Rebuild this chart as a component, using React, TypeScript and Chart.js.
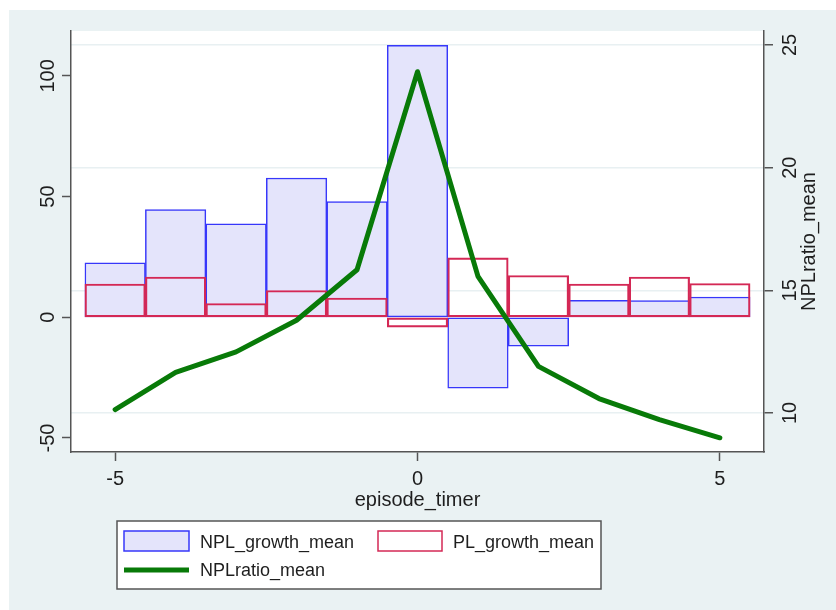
import React, { useEffect, useRef } from 'react';
import { Chart, registerables } from 'chart.js';

Chart.register(...registerables);

// ---- data ----
const episodeTimer = [-5, -4, -3, -2, -1, 0, 1, 2, 3, 4, 5];
const nplGrowthMean = [22.6, 44.6, 38.7, 57.7, 47.9, 112.7, -29.4, -12.0, 7.0, 6.9, 8.4];
const plGrowthMean = [13.8, 16.7, 5.7, 11.1, 8.0, -4.1, 24.6, 17.3, 13.8, 16.7, 14.0];
const nplRatioMean = [10.14, 11.66, 12.49, 13.78, 15.84, 23.91, 15.57, 11.9, 10.59, 9.73, 8.99];
const xTicks = [-5, 0, 5];
const yLeftTicks = [-50, 0, 50, 100];
const yRightTicks = [10, 15, 20, 25];
const xTitle = 'episode_timer';
const yRightTitle = 'NPLratio_mean';
const legendLabels = ['NPL_growth_mean', 'PL_growth_mean', 'NPLratio_mean'];

// ---- styles ----
const FONT = '"Liberation Sans", Arial, Helvetica, sans-serif';
const BG = 'rgb(234,242,243)';
const AXIS = '#555555';
const TEXT = '#1e1e1e';
const NPL_FILL = 'rgb(228,228,251)';
const NPL_LINE = 'rgb(55,55,250)';
const PL_LINE = 'rgb(212,40,85)';
const GREEN = 'rgb(8,122,8)';

function drawText(ctx: CanvasRenderingContext2D, s: string, x: number, y: number, size: number, rot = 0, align: CanvasTextAlign = 'center') {
  ctx.save();
  ctx.translate(x, y);
  if (rot) ctx.rotate(rot);
  ctx.font = `${size}px ${FONT}`;
  ctx.fillStyle = TEXT;
  ctx.textAlign = align;
  ctx.textBaseline = 'alphabetic';
  ctx.fillText(s, 0, 0);
  ctx.restore();
}

const stataPlugin = {
  id: 'stataLook',
  beforeDraw(chart: any) {
    const ctx = chart.ctx as CanvasRenderingContext2D;
    const { width, height } = chart;
    const a = chart.chartArea;
    ctx.save();
    ctx.fillStyle = '#ffffff';
    ctx.fillRect(0, 0, width, height);
    ctx.fillStyle = BG;
    ctx.fillRect(9, 10, width - 9, height - 10);
    ctx.fillStyle = '#ffffff';
    ctx.fillRect(a.left, a.top, a.right - a.left, a.bottom - a.top);
    ctx.restore();
  },
  afterDraw(chart: any) {
    const ctx = chart.ctx as CanvasRenderingContext2D;
    const a = chart.chartArea;
    const sx = chart.scales.x;
    const sy = chart.scales.y;
    const sy2 = chart.scales.y2;
    sy.ticks.forEach((t: any) => {
      drawText(ctx, String(t.value), a.left - 17, sy.getPixelForValue(t.value), 20, -Math.PI / 2);
    });
    sy2.ticks.forEach((t: any) => {
      drawText(ctx, String(t.value), a.right + 32, sy2.getPixelForValue(t.value), 20, -Math.PI / 2);
    });
    sx.ticks.forEach((t: any) => {
      drawText(ctx, String(t.value), sx.getPixelForValue(t.value), a.bottom + 33, 20);
    });
    drawText(ctx, xTitle, (a.left + a.right) / 2, a.bottom + 54, 20);
    drawText(ctx, yRightTitle, a.right + 51, (a.top + a.bottom) / 2, 20, -Math.PI / 2);

    // legend
    ctx.save();
    const lx = 117, ly = 521, lw = 484, lh = 68;
    ctx.fillStyle = '#ffffff';
    ctx.fillRect(lx, ly, lw, lh);
    ctx.strokeStyle = AXIS;
    ctx.lineWidth = 1.5;
    ctx.strokeRect(lx, ly, lw, lh);
    ctx.fillStyle = NPL_FILL;
    ctx.fillRect(124, 531, 65, 20);
    ctx.strokeStyle = NPL_LINE;
    ctx.lineWidth = 1.5;
    ctx.strokeRect(124, 531, 65, 20);
    ctx.fillStyle = '#ffffff';
    ctx.fillRect(378, 531, 64, 20);
    ctx.strokeStyle = PL_LINE;
    ctx.strokeRect(378, 531, 64, 20);
    ctx.strokeStyle = GREEN;
    ctx.lineWidth = 5;
    ctx.beginPath();
    ctx.moveTo(124, 570);
    ctx.lineTo(189, 570);
    ctx.stroke();
    ctx.restore();
    drawText(ctx, legendLabels[0], 200, 548, 18, 0, 'left');
    drawText(ctx, legendLabels[1], 453, 548, 18, 0, 'left');
    drawText(ctx, legendLabels[2], 200, 576, 18, 0, 'left');
  },
};

export default function App() {
  const ref = useRef<HTMLCanvasElement | null>(null);
  useEffect(() => {
    document.body.style.margin = '0';
    const canvas = ref.current;
    if (!canvas) return;
    const toXY = (arr: number[]) => arr.map((v, i) => ({ x: episodeTimer[i], y: v }));
    const chart = new Chart(canvas, {
      type: 'bar',
      data: {
        datasets: [
          {
            type: 'line',
            label: legendLabels[2],
            data: toXY(nplRatioMean),
            yAxisID: 'y2',
            borderColor: GREEN,
            borderWidth: 5,
            pointRadius: 0,
            tension: 0,
            borderCapStyle: 'round',
            borderJoinStyle: 'round',
            order: 0,
          } as any,
          {
            type: 'bar',
            label: legendLabels[1],
            data: toXY(plGrowthMean),
            yAxisID: 'y',
            backgroundColor: 'rgba(255,255,255,0)',
            borderColor: PL_LINE,
            borderWidth: 1.5,
            borderSkipped: false,
            grouped: false,
            barPercentage: 1,
            categoryPercentage: 1,
            order: 1,
          } as any,
          {
            type: 'bar',
            label: legendLabels[0],
            data: toXY(nplGrowthMean),
            yAxisID: 'y',
            backgroundColor: NPL_FILL,
            borderColor: NPL_LINE,
            borderWidth: 1.5,
            borderSkipped: false,
            grouped: false,
            barPercentage: 1,
            categoryPercentage: 1,
            order: 2,
          } as any,
        ],
      },
      options: {
        responsive: false,
        animation: false,
        devicePixelRatio: 1,
        layout: { padding: { top: 31, left: 0, right: 0, bottom: 0 } },
        plugins: { legend: { display: false }, tooltip: { enabled: false } },
        scales: {
          x: {
            type: 'linear',
            position: 'bottom',
            offset: false,
            min: -5.73,
            max: 5.73,
            afterBuildTicks: (s: any) => { s.ticks = xTicks.map((v) => ({ value: v })); },
            afterFit: (s: any) => { s.height = 158; },
            ticks: { display: false },
            grid: { offset: false, drawOnChartArea: false, drawTicks: true, tickLength: 9, tickColor: AXIS, tickWidth: 1.5 },
            border: { display: true, color: AXIS, width: 1.5 },
          },
          y: {
            type: 'linear',
            position: 'left',
            min: -55.8,
            max: 118.6,
            afterBuildTicks: (s: any) => { s.ticks = yLeftTicks.map((v) => ({ value: v })); },
            afterFit: (s: any) => { s.width = 71; },
            ticks: { display: false },
            grid: { drawOnChartArea: false, drawTicks: true, tickLength: 9, tickColor: AXIS, tickWidth: 1.5 },
            border: { display: true, color: AXIS, width: 1.5 },
          },
          y2: {
            type: 'linear',
            position: 'right',
            min: 8.41,
            max: 25.57,
            afterBuildTicks: (s: any) => { s.ticks = yRightTicks.map((v) => ({ value: v })); },
            afterFit: (s: any) => { s.width = 72; },
            ticks: { display: false },
            grid: { drawOnChartArea: true, color: 'rgb(232,240,242)', lineWidth: 1.5, drawTicks: true, tickLength: 9, tickColor: AXIS, tickWidth: 1.5 },
            border: { display: true, color: AXIS, width: 1.5 },
          },
        },
      },
      plugins: [stataPlugin],
    });
    return () => chart.destroy();
  }, []);
  return <canvas ref={ref} width={836} height={610} style={{ display: 'block' }} />;
}
